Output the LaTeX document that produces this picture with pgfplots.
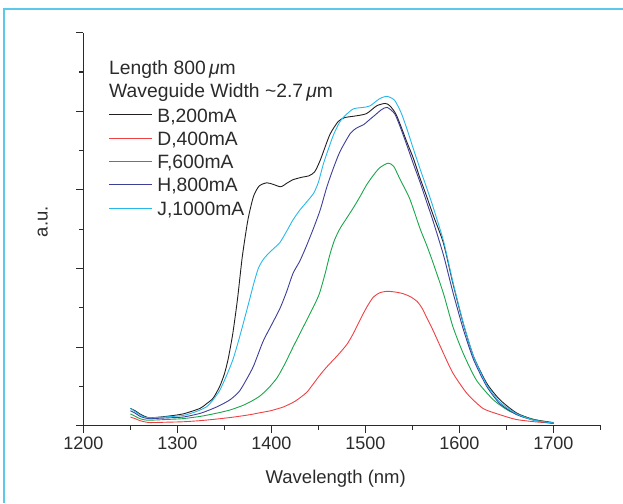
\documentclass[border=0pt]{standalone}
\usepackage{pgfplots}
\pgfplotsset{compat=1.18}
\usepackage{fontspec}
\setmainfont{Liberation Sans}

\definecolor{cB}{HTML}{231F20}
\definecolor{cD}{HTML}{EF4044}
\definecolor{cF}{HTML}{1AA64B}
\definecolor{cH}{HTML}{3C3E98}
\definecolor{cJ}{HTML}{27B8EA}
\definecolor{frame}{HTML}{5CC8EA}
\definecolor{txt}{HTML}{2B2B2B}

\begin{document}
\begin{tikzpicture}[x=1pt,y=1pt,font=\fontsize{18.5}{22}\selectfont,color=txt]
\useasboundingbox (0,0) rectangle (623,503);
% frame of the figure (only left and top are visible)
\draw[frame, line width=1.6pt] (4,0) -- (4,493.7) -- (623,493.7);

\begin{axis}[
  at={(83.4pt,77.3pt)}, anchor=south west,
  scale only axis, width=517.1pt, height=393pt,
  xmin=1200, xmax=1750, ymin=0, ymax=5,
  axis x line=bottom, axis y line=left,
  axis line style={-, line width=1.2pt, color=txt},
  tick style={line width=1.2pt, color=txt},
  tick align=outside,
  major tick length=7.5pt, minor tick length=4pt,
  xtick={1200,1300,...,1700},
  minor xtick={1250,1350,...,1750},
  ytick={0,1,...,5},
  minor ytick={0.5,1.5,...,4.5},
  yticklabels={},
  /pgf/number format/assume math mode=true,
  /pgf/number format/1000 sep={},
  x tick label style={font=\fontsize{18}{22}\selectfont},
  xlabel={Wavelength (nm)},
  ylabel={a.u.},
  xlabel style={at={(axis description cs:0.488,-0.1466)}, anchor=base},
  ylabel style={at={(axis description cs:-0.069,0.519)}, anchor=base},
  legend style={draw=none, fill=none, inner sep=0pt,
    at={(axis description cs:0.0482,0.807)}, anchor=north west,
    column sep=5pt, row sep=0pt,
    font=\fontsize{19.3}{22}\selectfont,
    nodes={inner sep=0pt, text height=13.3pt, text depth=10pt}},
  legend cell align=left,
  legend image code/.code={\draw[#1] (0pt,5.5pt) -- (43pt,5.5pt);},
  every axis plot/.append style={line width=0.9pt, smooth, tension=0.4},
]

% B, 200 mA
\addplot[cB] coordinates {
 (1250,0.22)(1255,0.19)(1260,0.15)(1265,0.12)(1271,0.10)(1289,0.12)
 (1306,0.15)(1324,0.22)(1331,0.28)(1338,0.35)(1345,0.5)(1350,0.66)
 (1354,0.85)(1359,1.18)(1364,1.62)(1369,2.15)(1375,2.62)(1381,2.92)
 (1387,3.05)(1395,3.09)(1402,3.07)(1410,3.04)(1417,3.09)(1423,3.13)
 (1432,3.16)(1440,3.18)(1446,3.23)(1452,3.38)(1462,3.70)(1471,3.87)
 (1478,3.92)(1489,3.94)(1501,3.97)(1512,4.07)(1521,4.10)(1526,4.07)
 (1533,3.95)(1544,3.61)(1551,3.40)(1558,3.15)(1565,2.92)(1572,2.68)
 (1583,2.32)(1593,1.81)(1604,1.30)(1615,0.88)(1629,0.54)(1643,0.33)
 (1661,0.16)(1679,0.08)(1700,0.04)};
\addlegendentry{B,200mA}

% D, 400 mA
\addplot[cD] coordinates {
 (1250,0.11)(1255,0.09)(1260,0.065)(1265,0.05)(1271,0.04)(1290,0.045)
 (1306,0.05)(1325,0.065)(1342,0.085)(1360,0.11)(1377,0.14)(1390,0.17)
 (1399,0.19)(1413,0.24)(1425,0.31)(1432,0.37)(1438,0.43)(1445,0.54)
 (1452,0.65)(1459,0.75)(1470,0.89)(1480,1.03)(1487,1.17)(1494,1.34)
 (1501,1.50)(1508,1.63)(1515,1.69)(1523,1.71)(1532,1.70)(1540,1.68)
 (1548,1.64)(1555,1.58)(1560,1.50)(1565,1.38)(1572,1.21)(1583,0.92)
 (1593,0.67)(1608,0.41)(1625,0.22)(1643,0.14)(1660,0.08)(1680,0.05)
 (1700,0.03)};
\addlegendentry{D,400mA}

% F, 600 mA
\addplot[cF] coordinates {
 (1250,0.15)(1255,0.12)(1260,0.09)(1265,0.075)(1271,0.07)(1290,0.08)
 (1306,0.09)(1325,0.12)(1342,0.16)(1356,0.20)(1370,0.26)(1380,0.32)
 (1388,0.38)(1397,0.48)(1406,0.61)(1414,0.78)(1423,1.0)(1434,1.26)
 (1445,1.52)(1451,1.68)(1457,1.93)(1462,2.17)(1467,2.36)(1473,2.51)
 (1480,2.64)(1487,2.77)(1494,2.91)(1501,3.06)(1508,3.18)(1515,3.28)
 (1524,3.34)(1530,3.30)(1537,3.13)(1547,2.89)(1558,2.51)(1565,2.30)
 (1572,2.07)(1583,1.68)(1593,1.26)(1604,0.92)(1618,0.58)(1636,0.33)
 (1654,0.18)(1678,0.08)(1700,0.03)};
\addlegendentry{F,600mA}

% H, 800 mA
\addplot[cH] coordinates {
 (1250,0.19)(1255,0.16)(1260,0.12)(1265,0.10)(1271,0.09)(1290,0.10)
 (1306,0.11)(1325,0.16)(1342,0.24)(1356,0.33)(1366,0.44)(1374,0.60)
 (1381,0.76)(1391,1.07)(1400,1.28)(1409,1.49)(1416,1.70)(1423,1.94)
 (1430,2.09)(1437,2.28)(1445,2.52)(1452,2.75)(1459,3.04)(1466,3.28)
 (1473,3.49)(1484,3.72)(1491,3.79)(1498,3.83)(1504,3.89)(1510,3.95)
 (1517,4.02)(1523,4.05)(1531,3.97)(1537,3.80)(1544,3.57)(1551,3.33)
 (1558,3.10)(1565,2.85)(1572,2.60)(1583,2.17)(1593,1.70)(1604,1.23)
 (1615,0.84)(1629,0.50)(1643,0.28)(1661,0.14)(1679,0.07)(1700,0.03)};
\addlegendentry{H,800mA}

% J, 1000 mA
\addplot[cJ] coordinates {
 (1250,0.22)(1255,0.18)(1260,0.14)(1265,0.11)(1271,0.10)(1285,0.11)
 (1306,0.13)(1320,0.18)(1331,0.24)(1338,0.33)(1345,0.45)(1352,0.63)
 (1359,0.84)(1365,1.08)(1370,1.30)(1376,1.57)(1381,1.80)(1386,2.00)
 (1391,2.11)(1396,2.18)(1402,2.25)(1409,2.33)(1416,2.47)(1423,2.62)
 (1430,2.74)(1437,2.84)(1445,2.96)(1450,3.10)(1455,3.32)(1460,3.50)
 (1466,3.70)(1472,3.85)(1477,3.93)(1487,4.03)(1498,4.05)(1505,4.07)
 (1515,4.16)(1523,4.19)(1531,4.14)(1538,3.98)(1544,3.78)(1551,3.52)
 (1558,3.27)(1565,3.03)(1572,2.78)(1583,2.35)(1593,1.83)(1604,1.31)
 (1615,0.88)(1629,0.52)(1643,0.30)(1661,0.15)(1679,0.07)(1700,0.035)};
\addlegendentry{J,1000mA}
\end{axis}

\begin{scope}[font=\fontsize{19.3}{22}\selectfont]
\node[anchor=base west, inner sep=0pt] at (109,428) {Length 800\,{\itshape μ}m};
\node[anchor=base west, inner sep=0pt] at (109,405.3) {Waveguide Width \textasciitilde2.7\,{\itshape μ}m};
\end{scope}
\end{tikzpicture}
\end{document}
